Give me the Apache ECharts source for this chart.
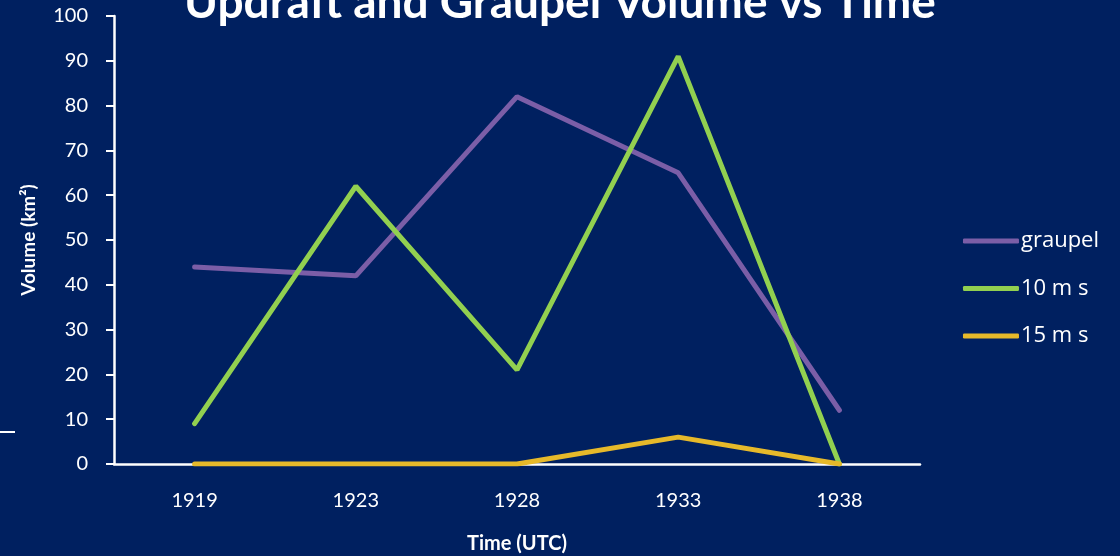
<!DOCTYPE html>
<html><head><meta charset="utf-8">
<script src="https://cdn.jsdelivr.net/npm/echarts@6/dist/echarts.min.js"></script>
<style>html,body{margin:0;padding:0;background:#002060;}#c{width:1120px;height:556px;}</style>
</head><body><div id="c"></div>
<script>
const categories = ['1919','1923','1928','1933','1938'];
const graupel = [44, 42, 82, 65, 12];
const tenMs = [9, 62, 21, 91, 0];
const fifteenMs = [0, 0, 0, 6, 0];
const seriesNames = ['graupel', '10 m s', '15 m s'];
const chart = echarts.init(document.getElementById('c'));
const font = 'Lato, "Open Sans", sans-serif';
const lineSeries = (name, data, color) => ({
  name, type: 'line', data, symbol: 'none', color,
  lineStyle: { width: 5, color, cap: 'round' }
});
chart.setOption({
  backgroundColor: '#002060',
  animation: false,
  title: {
    text: 'Updraft and Graupel Volume vs Time',
    left: 'center', top: -25,
    textStyle: { color: '#ffffff', fontSize: 46, fontWeight: 'bold', fontFamily: font }
  },
  legend: {
    orient: 'vertical', right: 16, top: 225,
    itemWidth: 56, itemHeight: 5, itemGap: 25.5,
    icon: 'roundRect',
    textStyle: { color: '#ffffff', fontSize: 22, fontFamily: '"Open Sans", sans-serif', padding: [0,0,0,-3] },
    data: seriesNames
  },
  grid: { left: 114, right: 200, top: 16, bottom: 92, containLabel: false, outerBoundsMode: 'none' },
  xAxis: {
    type: 'category', data: categories, boundaryGap: true,
    name: 'Time (UTC)', nameLocation: 'middle', nameGap: 70,
    nameTextStyle: { color: '#ffffff', fontSize: 20, fontWeight: 'bold', fontFamily: font },
    axisLine: { lineStyle: { color: '#ffffff', width: 2.5 } },
    axisTick: { show: false },
    axisLabel: { color: '#ffffff', fontSize: 20, margin: 27, fontFamily: font }
  },
  yAxis: {
    type: 'value', min: 0, max: 100, interval: 10,
    name: 'Volume (km²)', nameLocation: 'middle', nameGap: 76, nameRotate: 90,
    nameTextStyle: { color: '#ffffff', fontSize: 19, fontWeight: 'bold', fontFamily: font },
    axisLine: { show: true, lineStyle: { color: '#ffffff', width: 2.5 } },
    axisTick: { show: true, length: 8, lineStyle: { color: '#ffffff', width: 2 } },
    splitLine: { show: false },
    axisLabel: { color: '#ffffff', fontSize: 20, margin: 26, fontFamily: font }
  },
  graphic: [{
    type: 'line', shape: { x1: 0, y1: 432, x2: 15, y2: 432 },
    style: { stroke: '#ffffff', lineWidth: 2 }
  }],
  series: [
    lineSeries(seriesNames[0], graupel, '#7b5ea7'),
    lineSeries(seriesNames[1], tenMs, '#92d050'),
    lineSeries(seriesNames[2], fifteenMs, '#e6b92a')
  ]
});
</script></body></html>
